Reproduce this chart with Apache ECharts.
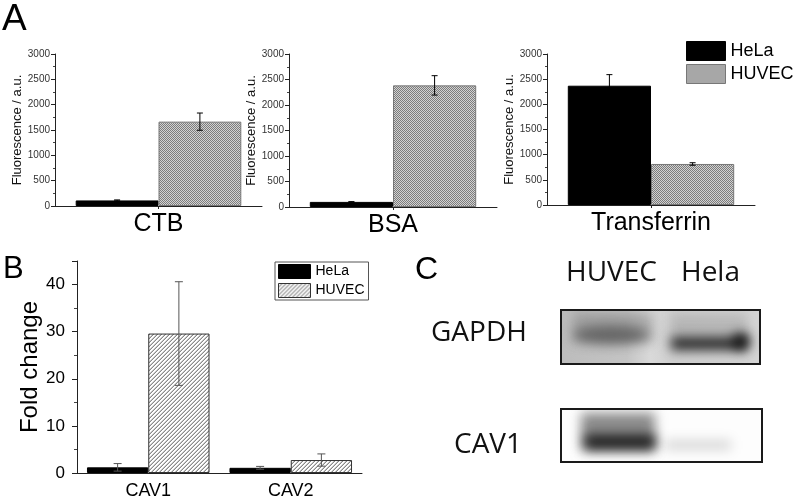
<!DOCTYPE html>
<html><head><meta charset="utf-8">
<script src="https://cdn.jsdelivr.net/npm/echarts@6/dist/echarts.min.js"></script>
<style>html,body{margin:0;padding:0;background:#fff}#c{width:793px;height:500px}</style>
</head><body><div id="c"></div>
<script>
// ---------- data ----------
const seriesNames = ['HeLa', 'HUVEC'];
const probesA = ['CTB', 'BSA', 'Transferrin'];
const helaA = [110, 100, 2370];
const helaAErr = [10, 5, 220];
const huvecA = [1665, 2385, 815];
const huvecAErr = [170, 190, 25];
const genesB = ['CAV1', 'CAV2'];
const helaB = [1.2, 1.1];
const helaBErr = [0.8, 0.3];
const huvecB = [29.6, 2.75];
const huvecBErr = [11, 1.3];
const blotLanes = ['HUVEC', 'Hela'];
const blotRows = ['GAPDH', 'CAV1'];

// ---------- patterns ----------
function checker() {
  const c = document.createElement('canvas'); c.width = 2; c.height = 2;
  const g = c.getContext('2d');
  g.fillStyle = '#d2d2d2'; g.fillRect(0, 0, 2, 2);
  g.fillStyle = '#7c7c7c'; g.fillRect(0, 0, 1, 1); g.fillRect(1, 1, 1, 1);
  return c;
}
function hatch() {
  const c = document.createElement('canvas'); c.width = 4; c.height = 4;
  const g = c.getContext('2d');
  g.fillStyle = '#ffffff'; g.fillRect(0, 0, 4, 4);
  g.fillStyle = '#8a8a8a';
  for (let x = 0; x < 4; x++) { g.fillRect(x, 3 - x, 1, 1); }
  g.fillStyle = '#c8c8c8';
  for (let x = 0; x < 4; x++) { g.fillRect(x, (6 - x) % 4, 1, 1); }
  return c;
}
const patA = { image: checker(), repeat: 'repeat' };
const patB = { image: hatch(), repeat: 'repeat' };

// ---------- blots ----------
function blotGAPDH() {
  const w = 199, h = 54;
  const c = document.createElement('canvas'); c.width = w; c.height = h;
  const g = c.getContext('2d');
  const bg = g.createLinearGradient(0, 0, w, 0);
  bg.addColorStop(0, '#bcbcbc'); bg.addColorStop(0.33, '#c4c4c4');
  bg.addColorStop(0.45, '#d9d9d9'); bg.addColorStop(0.56, '#cfcfcf');
  bg.addColorStop(1, '#d4d4d4');
  g.fillStyle = bg; g.fillRect(0, 0, w, h);
  g.filter = 'blur(6px)';
  g.fillStyle = 'rgba(120,120,120,0.45)';
  g.fillRect(12, 2, 80, 30);
  g.fillStyle = 'rgba(80,80,80,0.75)';
  g.beginPath(); g.ellipse(50, 25, 38, 9, 0, 0, Math.PI * 2); g.fill();
  g.fillStyle = 'rgba(150,150,150,0.45)';
  g.fillRect(110, 4, 76, 22);
  g.fillStyle = 'rgba(25,25,25,0.95)';
  g.fillRect(110, 27, 76, 13);
  g.fillStyle = 'rgba(0,0,0,0.85)';
  g.beginPath(); g.ellipse(180, 31, 8, 8, 0, 0, Math.PI * 2); g.fill();
  return c;
}
function blotCAV1() {
  const w = 201, h = 53;
  const c = document.createElement('canvas'); c.width = w; c.height = h;
  const g = c.getContext('2d');
  g.fillStyle = '#fdfdfd'; g.fillRect(0, 0, w, h);
  g.filter = 'blur(6px)';
  g.fillStyle = 'rgba(90,90,90,0.7)';
  g.fillRect(20, 4, 74, 38);
  g.fillStyle = 'rgba(15,15,15,0.9)';
  g.fillRect(24, 26, 70, 14);
  g.fillStyle = 'rgba(0,0,0,0.15)';
  g.fillRect(104, 31, 66, 10);
  return c;
}

// ---------- helpers ----------
const gapA = 0.2, gapB = 0.14;
function errRender(gap, color, cap) {
  return function (params, api) {
    const x = api.value(0), v = api.value(1), e = api.value(2), k = api.value(3);
    const c = api.coord([x, v]);
    const catW = api.size([1, 0])[0];
    const bw = catW * (1 - gap) / 2;
    const cx = c[0] + (k === 0 ? -bw / 2 : bw / 2);
    const top = api.coord([x, v + e])[1];
    const bot = api.coord([x, Math.max(0, v - e)])[1];
    const st = { stroke: color, lineWidth: 1 };
    return {
      type: 'group', children: [
        { type: 'line', shape: { x1: cx, y1: top, x2: cx, y2: bot }, style: st },
        { type: 'line', shape: { x1: cx - cap, y1: top, x2: cx + cap, y2: top }, style: st },
        { type: 'line', shape: { x1: cx - cap, y1: bot, x2: cx + cap, y2: bot }, style: st }
      ]
    };
  };
}
const plain = v => String(v);

const FONT = 'Liberation Sans, Arial, sans-serif';
const gridsA = [
  { left: 55, top: 54, width: 207, height: 152 },
  { left: 289, top: 54, width: 208, height: 153 },
  { left: 547, top: 54, width: 208, height: 151 }
];
const grid = gridsA.concat([{ left: 77, top: 261, width: 285, height: 212 }]);

const xAxis = [], yAxis = [], series = [];
probesA.forEach((p, i) => {
  xAxis.push({
    type: 'category', gridIndex: i, data: [p],
    axisLine: { lineStyle: { color: '#222', width: 1 } },
    axisTick: { show: true, alignWithLabel: true, length: 3, lineStyle: { color: '#222' } },
    axisLabel: { fontSize: 25, color: '#000', margin: 6, fontFamily: FONT }
  });
  yAxis.push({
    type: 'value', gridIndex: i, min: 0, max: 3000, interval: 500,
    name: 'Fluorescence / a.u.', nameLocation: 'middle', nameGap: 28,
    nameTextStyle: { fontSize: 13, color: '#111', fontFamily: FONT },
    axisLine: { show: true, lineStyle: { color: '#222', width: 1 } },
    axisTick: { show: true, length: 4, lineStyle: { color: '#222' } },
    minorTick: { show: true, splitNumber: 2, length: 2, lineStyle: { color: '#444' } },
    splitLine: { show: false },
    axisLabel: { fontSize: 10, color: '#333', margin: 5, fontFamily: FONT, formatter: plain }
  });
  series.push({
    name: seriesNames[0], type: 'bar', xAxisIndex: i, yAxisIndex: i,
    data: [helaA[i]], barGap: 0, barCategoryGap: (gapA * 100) + '%',
    itemStyle: { color: '#000', borderColor: '#000', borderWidth: 1 }
  });
  series.push({
    name: seriesNames[1], type: 'bar', xAxisIndex: i, yAxisIndex: i,
    data: [huvecA[i]], barGap: 0, barCategoryGap: (gapA * 100) + '%',
    itemStyle: { color: patA, borderColor: '#777', borderWidth: 1 }
  });
  series.push({
    type: 'custom', xAxisIndex: i, yAxisIndex: i, z: 5,
    encode: { x: 0, y: 1 },
    renderItem: errRender(gapA, '#000', 3),
    data: [[0, helaA[i], helaAErr[i], 0], [0, huvecA[i], huvecAErr[i], 1]]
  });
});

xAxis.push({
  type: 'category', gridIndex: 3, data: genesB,
  axisLine: { lineStyle: { color: '#222', width: 1 } },
  axisTick: { show: false },
  axisLabel: { fontSize: 18, color: '#000', margin: 9, fontFamily: FONT }
});
yAxis.push({
  type: 'value', gridIndex: 3, min: 0, max: 45, interval: 10,
  name: 'Fold change', nameLocation: 'middle', nameGap: 24,
  nameTextStyle: { fontSize: 24, color: '#000', fontFamily: FONT },
  axisLine: { show: true, lineStyle: { color: '#222', width: 1 } },
  axisTick: { show: true, length: 5, lineStyle: { color: '#222' } },
  minorTick: { show: true, splitNumber: 2, length: 3, lineStyle: { color: '#444' } },
  splitLine: { show: false },
  axisLabel: { fontSize: 17, color: '#000', margin: 12, fontFamily: FONT, showMaxLabel: false, formatter: plain }
});
series.push({
  name: seriesNames[0], type: 'bar', xAxisIndex: 3, yAxisIndex: 3,
  data: helaB, barGap: 0, barCategoryGap: (gapB * 100) + '%',
  itemStyle: { color: '#000', borderColor: '#000', borderWidth: 1 }
});
series.push({
  name: seriesNames[1], type: 'bar', xAxisIndex: 3, yAxisIndex: 3,
  data: huvecB, barGap: 0, barCategoryGap: (gapB * 100) + '%',
  itemStyle: { color: patB, borderColor: '#333', borderWidth: 1 }
});
series.push({
  type: 'custom', xAxisIndex: 3, yAxisIndex: 3, z: 5,
  encode: { x: 0, y: 1 },
  renderItem: errRender(gapB, '#555', 4),
  data: genesB.flatMap((g, j) => [[j, helaB[j], helaBErr[j], 0], [j, huvecB[j], huvecBErr[j], 1]])
});

const legend = [
  {
    orient: 'vertical', left: 686, top: 41, padding: 0, itemGap: 3,
    itemWidth: 39, itemHeight: 19, icon: 'rect', selectedMode: false,
    textStyle: { fontSize: 18, color: '#000', fontFamily: FONT },
    data: [
      { name: seriesNames[0], itemStyle: { color: '#000', borderColor: '#000', borderWidth: 1 } },
      { name: seriesNames[1], itemStyle: { color: patA, borderColor: '#777', borderWidth: 1 } }
    ]
  },
  {
    orient: 'vertical', left: 275, top: 262, padding: [2, 4, 2, 3], itemGap: 4,
    itemWidth: 32, itemHeight: 14, icon: 'rect', selectedMode: false,
    borderColor: '#555', borderWidth: 1,
    textStyle: { fontSize: 14, color: '#000', fontFamily: FONT },
    data: [
      { name: seriesNames[0], itemStyle: { color: '#000', borderColor: '#000', borderWidth: 1 } },
      { name: seriesNames[1], itemStyle: { color: patB, borderColor: '#333', borderWidth: 1 } }
    ]
  }
];

const BF = 'Open Sans, Noto Sans, sans-serif';
const graphic = [
  { type: 'text', left: 2, top: 1, style: { text: 'A', font: '37px ' + FONT, fill: '#000' } },
  { type: 'text', left: 3, top: 254, style: { text: 'B', font: '31px ' + FONT, fill: '#000' } },
  { type: 'text', left: 415, top: 254, style: { text: 'C', font: '32px ' + FONT, fill: '#000' } },
  { type: 'text', x: 566, y: 273, style: { text: blotLanes[0], font: '28px ' + BF, fill: '#111', verticalAlign: 'middle' } },
  { type: 'text', x: 681, y: 273, style: { text: blotLanes[1], font: '28px ' + BF, fill: '#111', verticalAlign: 'middle' } },
  { type: 'text', x: 431, y: 333, style: { text: blotRows[0], font: '28px ' + BF, fill: '#111', verticalAlign: 'middle' } },
  { type: 'text', x: 454, y: 445, style: { text: blotRows[1], font: '28px ' + BF, fill: '#111', verticalAlign: 'middle' } },
  { type: 'image', x: 561, y: 310, style: { image: blotGAPDH(), x: 0, y: 0, width: 199, height: 54 } },
  { type: 'rect', shape: { x: 561, y: 310, width: 199, height: 54 }, style: { fill: 'none', stroke: '#1a1a1a', lineWidth: 2 } },
  { type: 'image', x: 561, y: 409, style: { image: blotCAV1(), x: 0, y: 0, width: 201, height: 53 } },
  { type: 'rect', shape: { x: 561, y: 409, width: 201, height: 53 }, style: { fill: 'none', stroke: '#1a1a1a', lineWidth: 2 } }
];

const chart = echarts.init(document.getElementById('c'));
chart.setOption({
  animation: false,
  backgroundColor: '#fff',
  grid, xAxis, yAxis, series, legend, graphic
});
</script>
</body></html>
